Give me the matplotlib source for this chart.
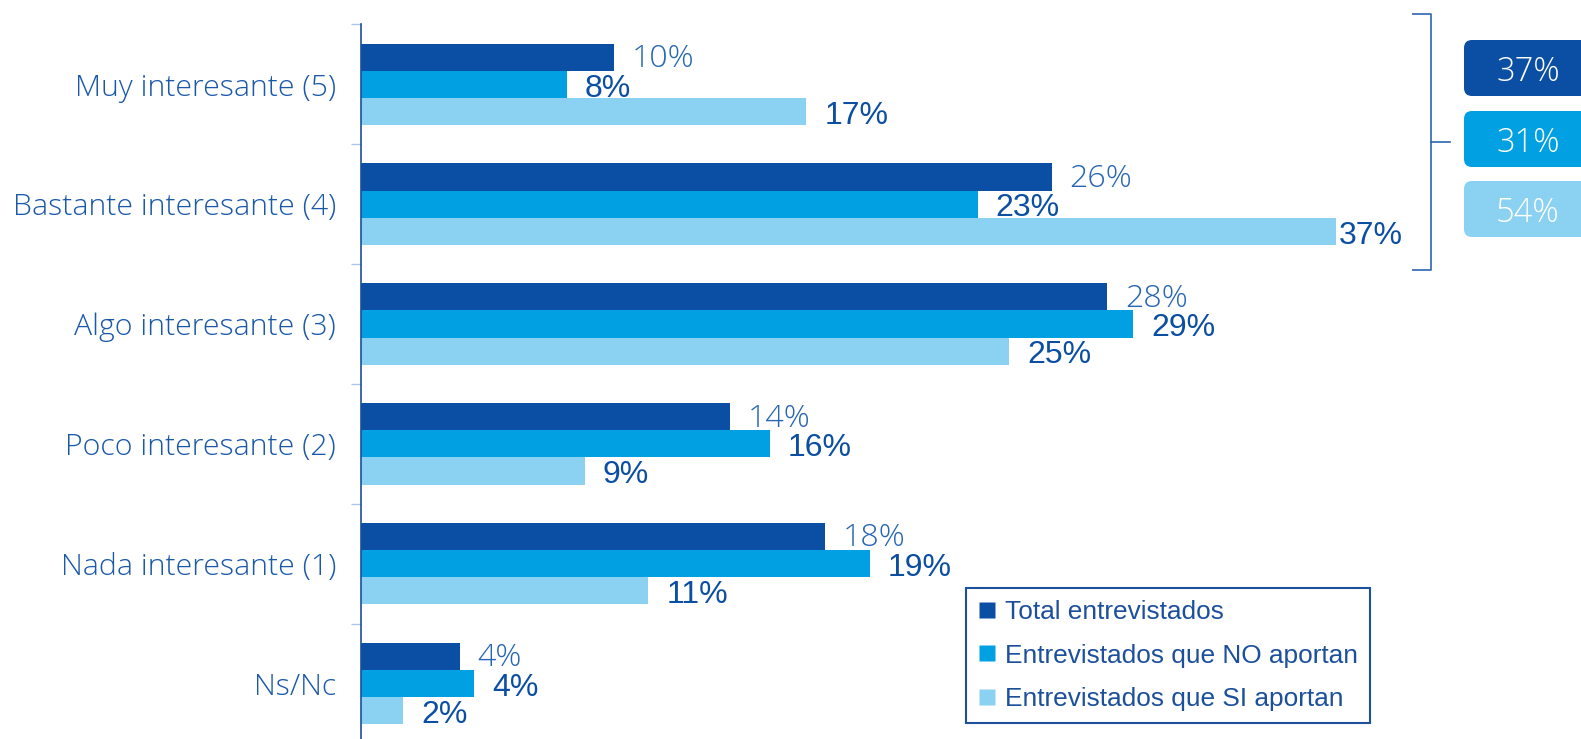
import matplotlib
matplotlib.use("Agg")
import matplotlib.pyplot as plt
from matplotlib.patches import FancyBboxPatch
from matplotlib.lines import Line2D
import numpy as np

# ---------------- data ----------------
categories = ["Muy interesante (5)", "Bastante interesante (4)", "Algo interesante (3)",
              "Poco interesante (2)", "Nada interesante (1)", "Ns/Nc"]
series_names = ["Total entrevistados", "Entrevistados que NO aportan", "Entrevistados que SI aportan"]
total_vals = [9.6, 26.2, 28.3, 14.0, 17.6, 3.75]
no_vals = [7.8, 23.4, 29.3, 15.5, 19.3, 4.3]
si_vals = [16.9, 37.0, 24.6, 8.5, 10.9, 1.6]
total_labels = ["10%", "26%", "28%", "14%", "18%", "4%"]
no_labels = ["8%", "23%", "29%", "16%", "19%", "4%"]
si_labels = ["17%", "37%", "25%", "9%", "11%", "2%"]
top2_labels = ["37%", "31%", "54%"]

# ---------------- style ----------------
C_DARK = "#0a4fa3"
C_MID = "#00a0e3"
C_LIGHT = "#8bd1f2"
C_TEXT = "#1a58aa"
C_LBL_THIN = "#2766b4"
C_LBL = "#0b4ea2"
THIN = ["Open Sans", "DejaVu Sans"]
SANS = ["Liberation Sans", "DejaVu Sans"]
TW = "light"

W, H = 1581, 739
fig = plt.figure(figsize=(W / 100, H / 100), dpi=100)
ax_left = 361 / W
ax_top_px = 24.5
ax = fig.add_axes([ax_left, 0, 1 - ax_left, (H - ax_top_px) / H])
ax.patch.set_alpha(0)

px_per_unit = 26.36
ax.set_xlim(0, (W - 361) / px_per_unit)
slot = 119.8
ax.set_ylim((H - ax_top_px) / slot - 0.5, -0.5)

y = np.arange(len(categories))
bh = 0.227
colors = [C_DARK, C_MID, C_LIGHT]
vals = [total_vals, no_vals, si_vals]
labels = [total_labels, no_labels, si_labels]
offsets = [-bh, 0, bh]
for k in range(3):
    ax.barh(y + offsets[k], vals[k], height=bh, color=colors[k], edgecolor="none",
            label=series_names[k])
    for i, (v, t) in enumerate(zip(vals[k], labels[k])):
        gap = 0.68 if v < 35 else 0.08
        if k == 0:
            ax.annotate(t, (v + gap, y[i] + offsets[k]), xytext=(0, 1.5),
                        textcoords="offset points", ha="left", va="center_baseline",
                        fontsize=23.2, family=THIN, fontweight=TW, color=C_LBL_THIN)
        else:
            ax.annotate(t, (v + gap, y[i] + offsets[k]), xytext=(0, -0.5),
                        textcoords="offset points", ha="left", va="center_baseline",
                        fontsize=23, family=SANS, color=C_LBL)

ax.set_yticks(y)
ax.set_yticklabels(categories, family=THIN, fontweight=TW, fontsize=21.8, color=C_TEXT)
ax.tick_params(axis="y", which="major", length=0, pad=18)
ax.set_yticks(np.arange(-0.5, len(categories) - 0.5, 1.0), minor=True)
ax.tick_params(axis="y", which="minor", length=7, width=1, color="#a9c7e8")
ax.set_xticks([])
for s in ["top", "right", "bottom"]:
    ax.spines[s].set_visible(False)
ax.spines["left"].set_color("#1c4f9c")
ax.spines["left"].set_linewidth(1.2)

handles = [Line2D([], [], marker="s", linestyle="none", markersize=11,
                  markerfacecolor=c, markeredgecolor="none") for c in colors]
leg = ax.legend(handles, series_names, loc="upper left",
                bbox_to_anchor=(966 / W, 1 - 588 / H), bbox_transform=fig.transFigure,
                borderaxespad=0, frameon=True, fancybox=False, framealpha=1,
                prop={"family": SANS, "size": 18.9}, labelspacing=0.75,
                handlelength=0.7, handletextpad=0.35, borderpad=0.45,
                labelcolor="#1c4f9c")
leg.get_frame().set_edgecolor("#1c4f9c")
leg.get_frame().set_linewidth(1.5)

# ---------------- overlay: bracket and top-2 boxes ----------------
ov = fig.add_axes([0, 0, 1, 1], zorder=-1)
ov.set_xlim(0, W)
ov.set_ylim(H, 0)
ov.axis("off")
bc = "#2e64b2"
ov.plot([1412, 1430.5, 1430.5, 1412], [14, 14, 270, 270], color=bc, lw=1.2,
        solid_capstyle="butt")
ov.plot([1430.5, 1450], [142, 142], color=bc, lw=1.2)
box_tops = [40, 111, 181]
box_h = 56
for k, (bt, t) in enumerate(zip(box_tops, top2_labels)):
    p = FancyBboxPatch((1464, bt), 140, box_h, boxstyle="round,pad=0,rounding_size=8",
                       facecolor=colors[k], edgecolor="none", clip_on=False)
    ov.add_patch(p)
    ov.text(1528, bt + box_h / 2, t, ha="center", va="center_baseline", fontsize=23.5,
            family=THIN, fontweight=TW, color="white")

fig.savefig("out.png", dpi=100)
